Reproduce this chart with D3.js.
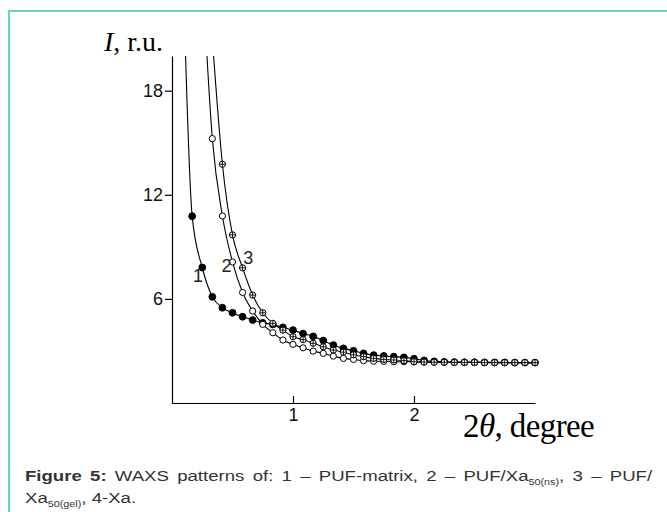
<!DOCTYPE html>
<html>
<head>
<meta charset="utf-8">
<script src="https://cdn.jsdelivr.net/npm/d3@7"></script>
<style>
    html, body { margin: 0; padding: 0; background: #fff; }
    svg { display: block; }
    .axis path, .axis line { stroke: #000; stroke-width: 1.2; }
</style>
</head>
<body>
<script>
// 2theta step is 1/12 degree
var steps = d3.range(1, 37);

// curve 1 - PUF-matrix (filled circles), from k = 1
var puf = [27, 10.77, 7.81, 6.12, 5.49, 5.2, 4.97, 4.78, 4.62, 4.53, 4.36, 4.2,
    4.0, 3.84, 3.6, 3.34, 3.15, 3.01, 2.86, 2.76, 2.71, 2.67, 2.63, 2.55,
    2.45, 2.4, 2.37, 2.36, 2.35, 2.35, 2.34, 2.34, 2.34, 2.33, 2.33, 2.33];

// curve 2 - PUF/Xa50(ns) (open circles), from k = 3
var pufNs = [25, 15.24, 10.78, 8.13, 6.37, 5.3, 4.53, 4.05, 3.63, 3.38,
    3.18, 2.99, 2.86, 2.7, 2.57, 2.51, 2.44, 2.41, 2.4, 2.38, 2.38, 2.37,
    2.36, 2.35, 2.35, 2.35, 2.34, 2.34, 2.34, 2.33, 2.33, 2.33, 2.33, 2.33];

// curve 3 - PUF/Xa50(gel) (crossed circles), from k = 4
var pufGel = [21, 13.76, 9.69, 7.79, 6.22, 5.2, 4.59, 4.2, 3.82,
    3.65, 3.44, 3.24, 3.05, 2.93, 2.78, 2.67, 2.57, 2.51, 2.48, 2.44, 2.38,
    2.36, 2.35, 2.35, 2.34, 2.34, 2.34, 2.33, 2.33, 2.33, 2.33, 2.33, 2.33];

var yTicks = [6, 12, 18];
var xTicks = [1, 2];

// curve numbers, in data units
var curveLabels = [
    { text: '1', x: 0.215, y: 6.98 },
    { text: '2', x: 0.45, y: 7.55 },
    { text: '3', x: 0.63, y: 8.04 }
];

var W = 667, H = 512;
var sans = '"Liberation Sans", Arial, sans-serif';
var serif = '"Liberation Serif", "Times New Roman", serif';

var svg = d3.select('body').append('svg')
    .attr('width', W)
    .attr('height', H);

svg.append('rect').attr('width', W).attr('height', H).attr('fill', '#fff');

// teal frame, top and left only
svg.append('path')
    .attr('d', 'M9,' + H + ' L9,11 L' + W + ',11')
    .attr('fill', 'none')
    .attr('stroke', '#66d4c1')
    .attr('stroke-width', 2);

var x = d3.scaleLinear().domain([0, 3]).range([172, 535]);
var y = d3.scaleLinear().domain([0, 20]).range([403, 56]);

function series(values, k0) {
    return values.map(function(v, i) { return { x: (k0 + i) / 12, y: v }; });
}

var data = [
    { name: 'puf', points: series(puf, steps[0]), marker: 'filled' },
    { name: 'ns', points: series(pufNs, 3), marker: 'open' },
    { name: 'gel', points: series(pufGel, 4), marker: 'crossed' }
];

svg.append('clipPath')
    .attr('id', 'plot-clip')
    .append('rect')
    .attr('x', x(0))
    .attr('y', y(20))
    .attr('width', x(3) - x(0) + 10)
    .attr('height', y(0) - y(20));

function tickText(g) {
    g.attr('font-size', 18).attr('font-family', sans);
    g.selectAll('.tick text').attr('fill', '#111');
}

// axes
svg.append('g')
    .attr('class', 'axis')
    .attr('transform', 'translate(' + x(0) + ',0)')
    .call(d3.axisLeft(y).tickValues(yTicks).tickSize(7).tickSizeOuter(0).tickPadding(2)
        .tickFormat(d3.format('d')))
    .call(tickText);

svg.append('g')
    .attr('class', 'axis')
    .attr('transform', 'translate(0,' + y(0) + ')')
    .call(d3.axisBottom(x).tickValues(xTicks).tickSizeInner(-7).tickSizeOuter(0).tickPadding(5)
        .tickFormat(d3.format('d')))
    .call(tickText);

var plot = svg.append('g').attr('clip-path', 'url(#plot-clip)');

var line = d3.line()
    .x(function(d) { return x(d.x); })
    .y(function(d) { return y(d.y); })
    .curve(d3.curveMonotoneX);

data.forEach(function(s) {
    plot.append('path')
        .datum(s.points)
        .attr('fill', 'none')
        .attr('stroke', '#000')
        .attr('stroke-width', 1.1)
        .attr('d', line);

    var marks = plot.selectAll('.m-' + s.name)
        .data(s.points)
        .enter().append('g')
        .attr('class', 'm-' + s.name)
        .attr('transform', function(d) { return 'translate(' + x(d.x) + ',' + y(d.y) + ')'; });

    marks.append('circle')
        .attr('r', s.marker === 'filled' ? 3.4 : 3.1)
        .attr('fill', s.marker === 'filled' ? '#000' : '#fff')
        .attr('stroke', '#000')
        .attr('stroke-width', 1);

    if (s.marker === 'crossed') {
        marks.append('path')
            .attr('d', 'M-3,0 L3,0 M0,-3 L0,3')
            .attr('stroke', '#000')
            .attr('stroke-width', 0.9);
    }
});

svg.selectAll('.curve-label')
    .data(curveLabels)
    .enter().append('text')
    .attr('class', 'curve-label')
    .attr('x', function(d) { return x(d.x); })
    .attr('y', function(d) { return y(d.y); })
    .attr('text-anchor', 'middle')
    .attr('font-family', sans)
    .attr('font-size', 18)
    .attr('fill', '#222')
    .text(function(d) { return d.text; });

// axis titles
var yTitle = svg.append('text')
    .attr('x', 104)
    .attr('y', 51)
    .style('font-family', serif)
    .style('font-size', '28px')
    .attr('fill', '#000');
yTitle.append('tspan').style('font-style', 'italic').text('I');
yTitle.append('tspan').text(', r.u.');

var xTitle = svg.append('text')
    .attr('x', 463)
    .attr('y', 437)
    .style('font-family', serif)
    .style('font-size', '33px')
    .style('letter-spacing', '-0.6px')
    .attr('fill', '#000');
xTitle.append('tspan').text('2');
xTitle.append('tspan').style('font-style', 'italic').text('θ');
xTitle.append('tspan').text(', degree');

// caption: the source text is a little wider than plain Arial, so stretch it
var capStretch = 1.2;

var cap1 = svg.append('g')
    .attr('transform', 'translate(25,481) scale(' + capStretch + ',1)')
    .append('text')
    .style('font-family', sans)
    .style('font-size', '15.5px')
    .attr('fill', '#333');
cap1.append('tspan').style('font-weight', 'bold').text('Figure 5:');
cap1.append('tspan').text(' WAXS patterns of: 1 – PUF-matrix, 2 – PUF/Xa');
cap1.append('tspan').attr('dy', 4).style('font-size', '9px').text('50(ns)');
cap1.append('tspan').attr('dy', -4).text(', 3 – PUF/');

// spread line 1 to the full column width
var natural = cap1.node().getComputedTextLength();
cap1.style('word-spacing', Math.max(0, ((649 - 25) / capStretch - natural) / 12) + 'px');

var cap2 = svg.append('g')
    .attr('transform', 'translate(25,503) scale(' + capStretch + ',1)')
    .append('text')
    .style('font-family', sans)
    .style('font-size', '15.5px')
    .attr('fill', '#333');
cap2.append('tspan').text('Xa');
cap2.append('tspan').attr('dy', 4).style('font-size', '9px').text('50(gel)');
cap2.append('tspan').attr('dy', -4).text(', 4-Xa.');
</script>
</body>
</html>
